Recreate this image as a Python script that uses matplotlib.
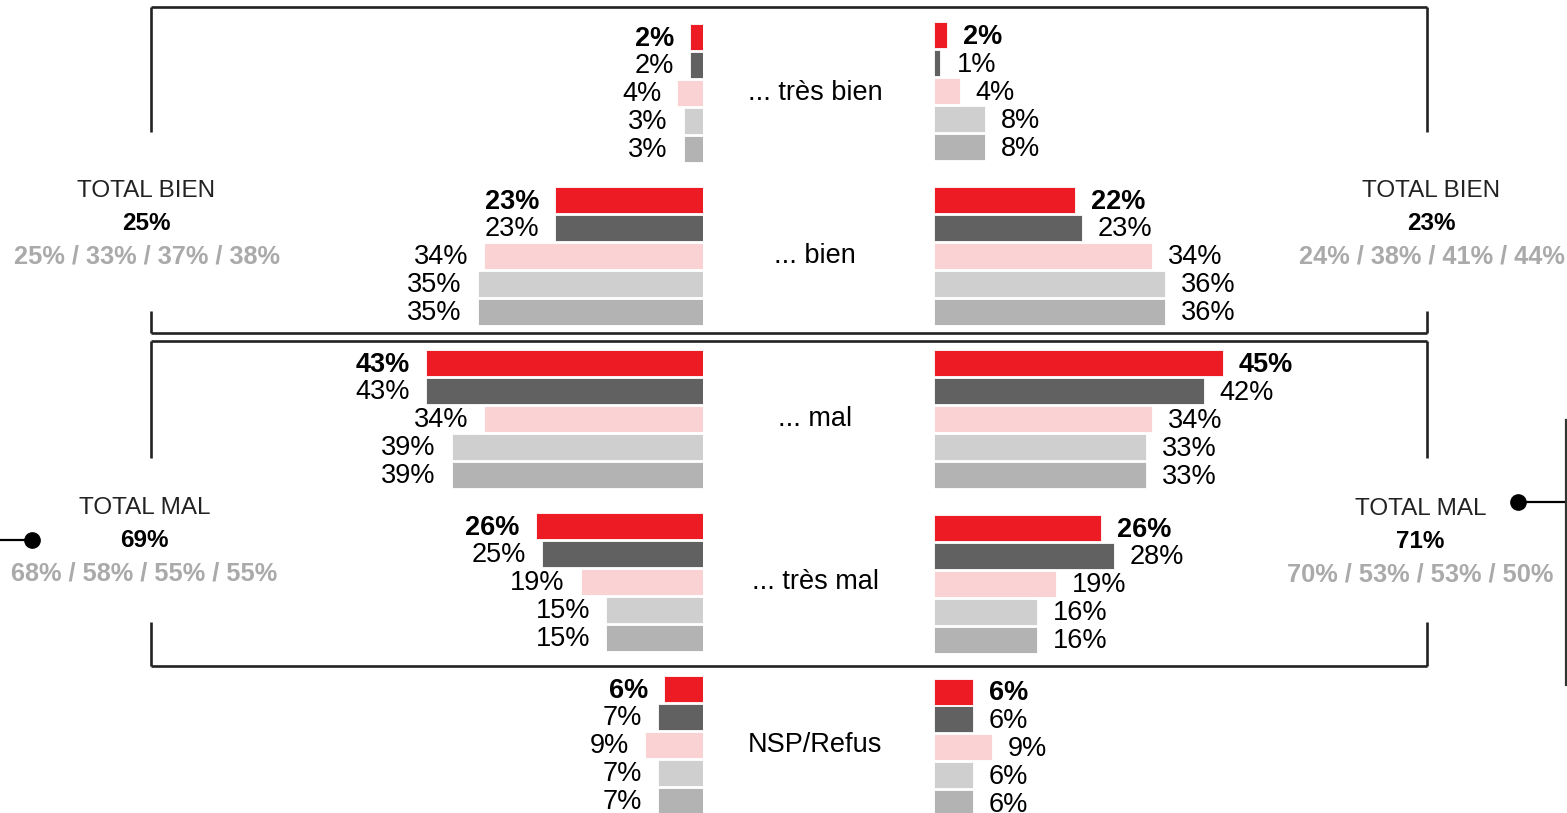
import matplotlib
matplotlib.use("Agg")
import matplotlib.pyplot as plt

# ---------------- data ----------------
categories = ["... très bien", "... bien", "... mal", "... très mal", "NSP/Refus"]

left_s1 = [2, 23, 43, 26, 6]
left_s2 = [2, 23, 43, 25, 7]
left_s3 = [4, 34, 34, 19, 9]
left_s4 = [3, 35, 39, 15, 7]
left_s5 = [3, 35, 39, 15, 7]

right_s1 = [2, 22, 45, 26, 6]
right_s2 = [1, 23, 42, 28, 6]
right_s3 = [4, 34, 34, 19, 9]
right_s4 = [8, 36, 33, 16, 6]
right_s5 = [8, 36, 33, 16, 6]

left_total_bien = 25
left_bien_others = [25, 33, 37, 38]
left_total_mal = 69
left_mal_others = [68, 58, 55, 55]
right_total_bien = 23
right_bien_others = [24, 38, 41, 44]
right_total_mal = 71
right_mal_others = [70, 53, 53, 50]

series_colors = ["#ED1C24", "#616161", "#FAD2D4", "#CFCFCF", "#B3B3B3"]

# ---------------- figure ----------------
W, H = 1567, 813
fig = plt.figure(figsize=(W / 100, H / 100), dpi=100)
plt.rcParams["font.family"] = ["Liberation Sans", "DejaVu Sans"]

FS = 19.5
TFS = 17.5
GFS = 18.3

left_px_per = 6.44
right_px_per = 6.42
left_edge = 703
right_edge = 934

axL = fig.add_axes([0, 0, left_edge / W, 1])
axL.set_xlim(left_edge / left_px_per, 0)
axL.set_ylim(H, 0)
axL.axis("off")

axR = fig.add_axes([right_edge / W, 0, (W - right_edge) / W, 1])
axR.set_xlim(0, (W - right_edge) / right_px_per)
axR.set_ylim(H, 0)
axR.axis("off")

left_group_y = [37, 200, 363, 526, 689]
right_group_y = [35.5, 200, 363.5, 528, 691.5]
pitch = 27.9
bar_h = 26

left_series = [left_s1, left_s2, left_s3, left_s4, left_s5]
right_series = [right_s1, right_s2, right_s3, right_s4, right_s5]

gap_px = 16
for si, (vals, col) in enumerate(zip(left_series, series_colors)):
    ys = [g + si * pitch for g in left_group_y]
    axL.barh(ys, vals, height=bar_h, color=col, edgecolor="white", linewidth=0.6)
    for y, v in zip(ys, vals):
        axL.text(v + gap_px / left_px_per, y + 1.5, f"{v}%", ha="right", va="center",
                 fontsize=FS, color="black", fontweight="bold" if si == 0 else "normal")

for si, (vals, col) in enumerate(zip(right_series, series_colors)):
    ys = [g + si * pitch for g in right_group_y]
    axR.barh(ys, vals, height=bar_h, color=col, edgecolor="white", linewidth=0.6)
    for y, v in zip(ys, vals):
        axR.text(v + gap_px / right_px_per, y + 1.5, f"{v}%", ha="left", va="center",
                 fontsize=FS, color="black", fontweight="bold" if si == 0 else "normal")

# ---------------- overlay ----------------
ax0 = fig.add_axes([0, 0, 1, 1])
ax0.set_xlim(0, W)
ax0.set_ylim(H, 0)
ax0.axis("off")
ax0.patch.set_alpha(0)

for ci, cat in enumerate(categories):
    ax0.text(815, left_group_y[ci] + 2 * pitch, cat, ha="center", va="center",
             fontsize=FS, color="black")

lc = "#222222"
lw = 1.9
# top box
ax0.plot([151, 1427], [7, 7], color=lc, lw=lw, solid_capstyle="butt")
ax0.plot([151, 1427], [333, 333], color=lc, lw=lw, solid_capstyle="butt")
for x in (151, 1427):
    ax0.plot([x, x], [7, 132], color=lc, lw=lw, solid_capstyle="butt")
    ax0.plot([x, x], [311, 333], color=lc, lw=lw, solid_capstyle="butt")
# bottom box
ax0.plot([151, 1427], [341, 341], color=lc, lw=lw, solid_capstyle="butt")
ax0.plot([151, 1427], [666, 666], color=lc, lw=lw, solid_capstyle="butt")
for x in (151, 1427):
    ax0.plot([x, x], [341, 458], color=lc, lw=lw, solid_capstyle="butt")
    ax0.plot([x, x], [622, 666], color=lc, lw=lw, solid_capstyle="butt")

# connectors
ax0.plot([0, 32], [540, 540], color="black", lw=1.6)
ax0.plot([32], [540], "o", color="black", markersize=11)
ax0.plot([1518, 1566], [502, 502], color="black", lw=1.6)
ax0.plot([1518], [502], "o", color="black", markersize=11)
ax0.plot([1566, 1566], [420, 685], color="#333333", lw=1.6)

grey = "#AAAAAA"

def total_block(x, y0, title, main, others):
    ax0.text(x, y0, title, ha="center", va="center", fontsize=TFS, color="#222222")
    ax0.text(x, y0 + 32.5, f"{main}%", ha="center", va="center", fontsize=TFS,
             color="black", fontweight="bold")
    ax0.text(x, y0 + 65, " / ".join(f"{o}%" for o in others), ha="center",
             va="center", fontsize=GFS, color=grey, fontweight="bold")

total_block(146.5, 191, "TOTAL BIEN", left_total_bien, left_bien_others)
total_block(1431.5, 191, "TOTAL BIEN", right_total_bien, right_bien_others)
total_block(144.5, 508, "TOTAL MAL", left_total_mal, left_mal_others)
total_block(1420.5, 509, "TOTAL MAL", right_total_mal, right_mal_others)

fig.savefig("out.png", dpi=100)
